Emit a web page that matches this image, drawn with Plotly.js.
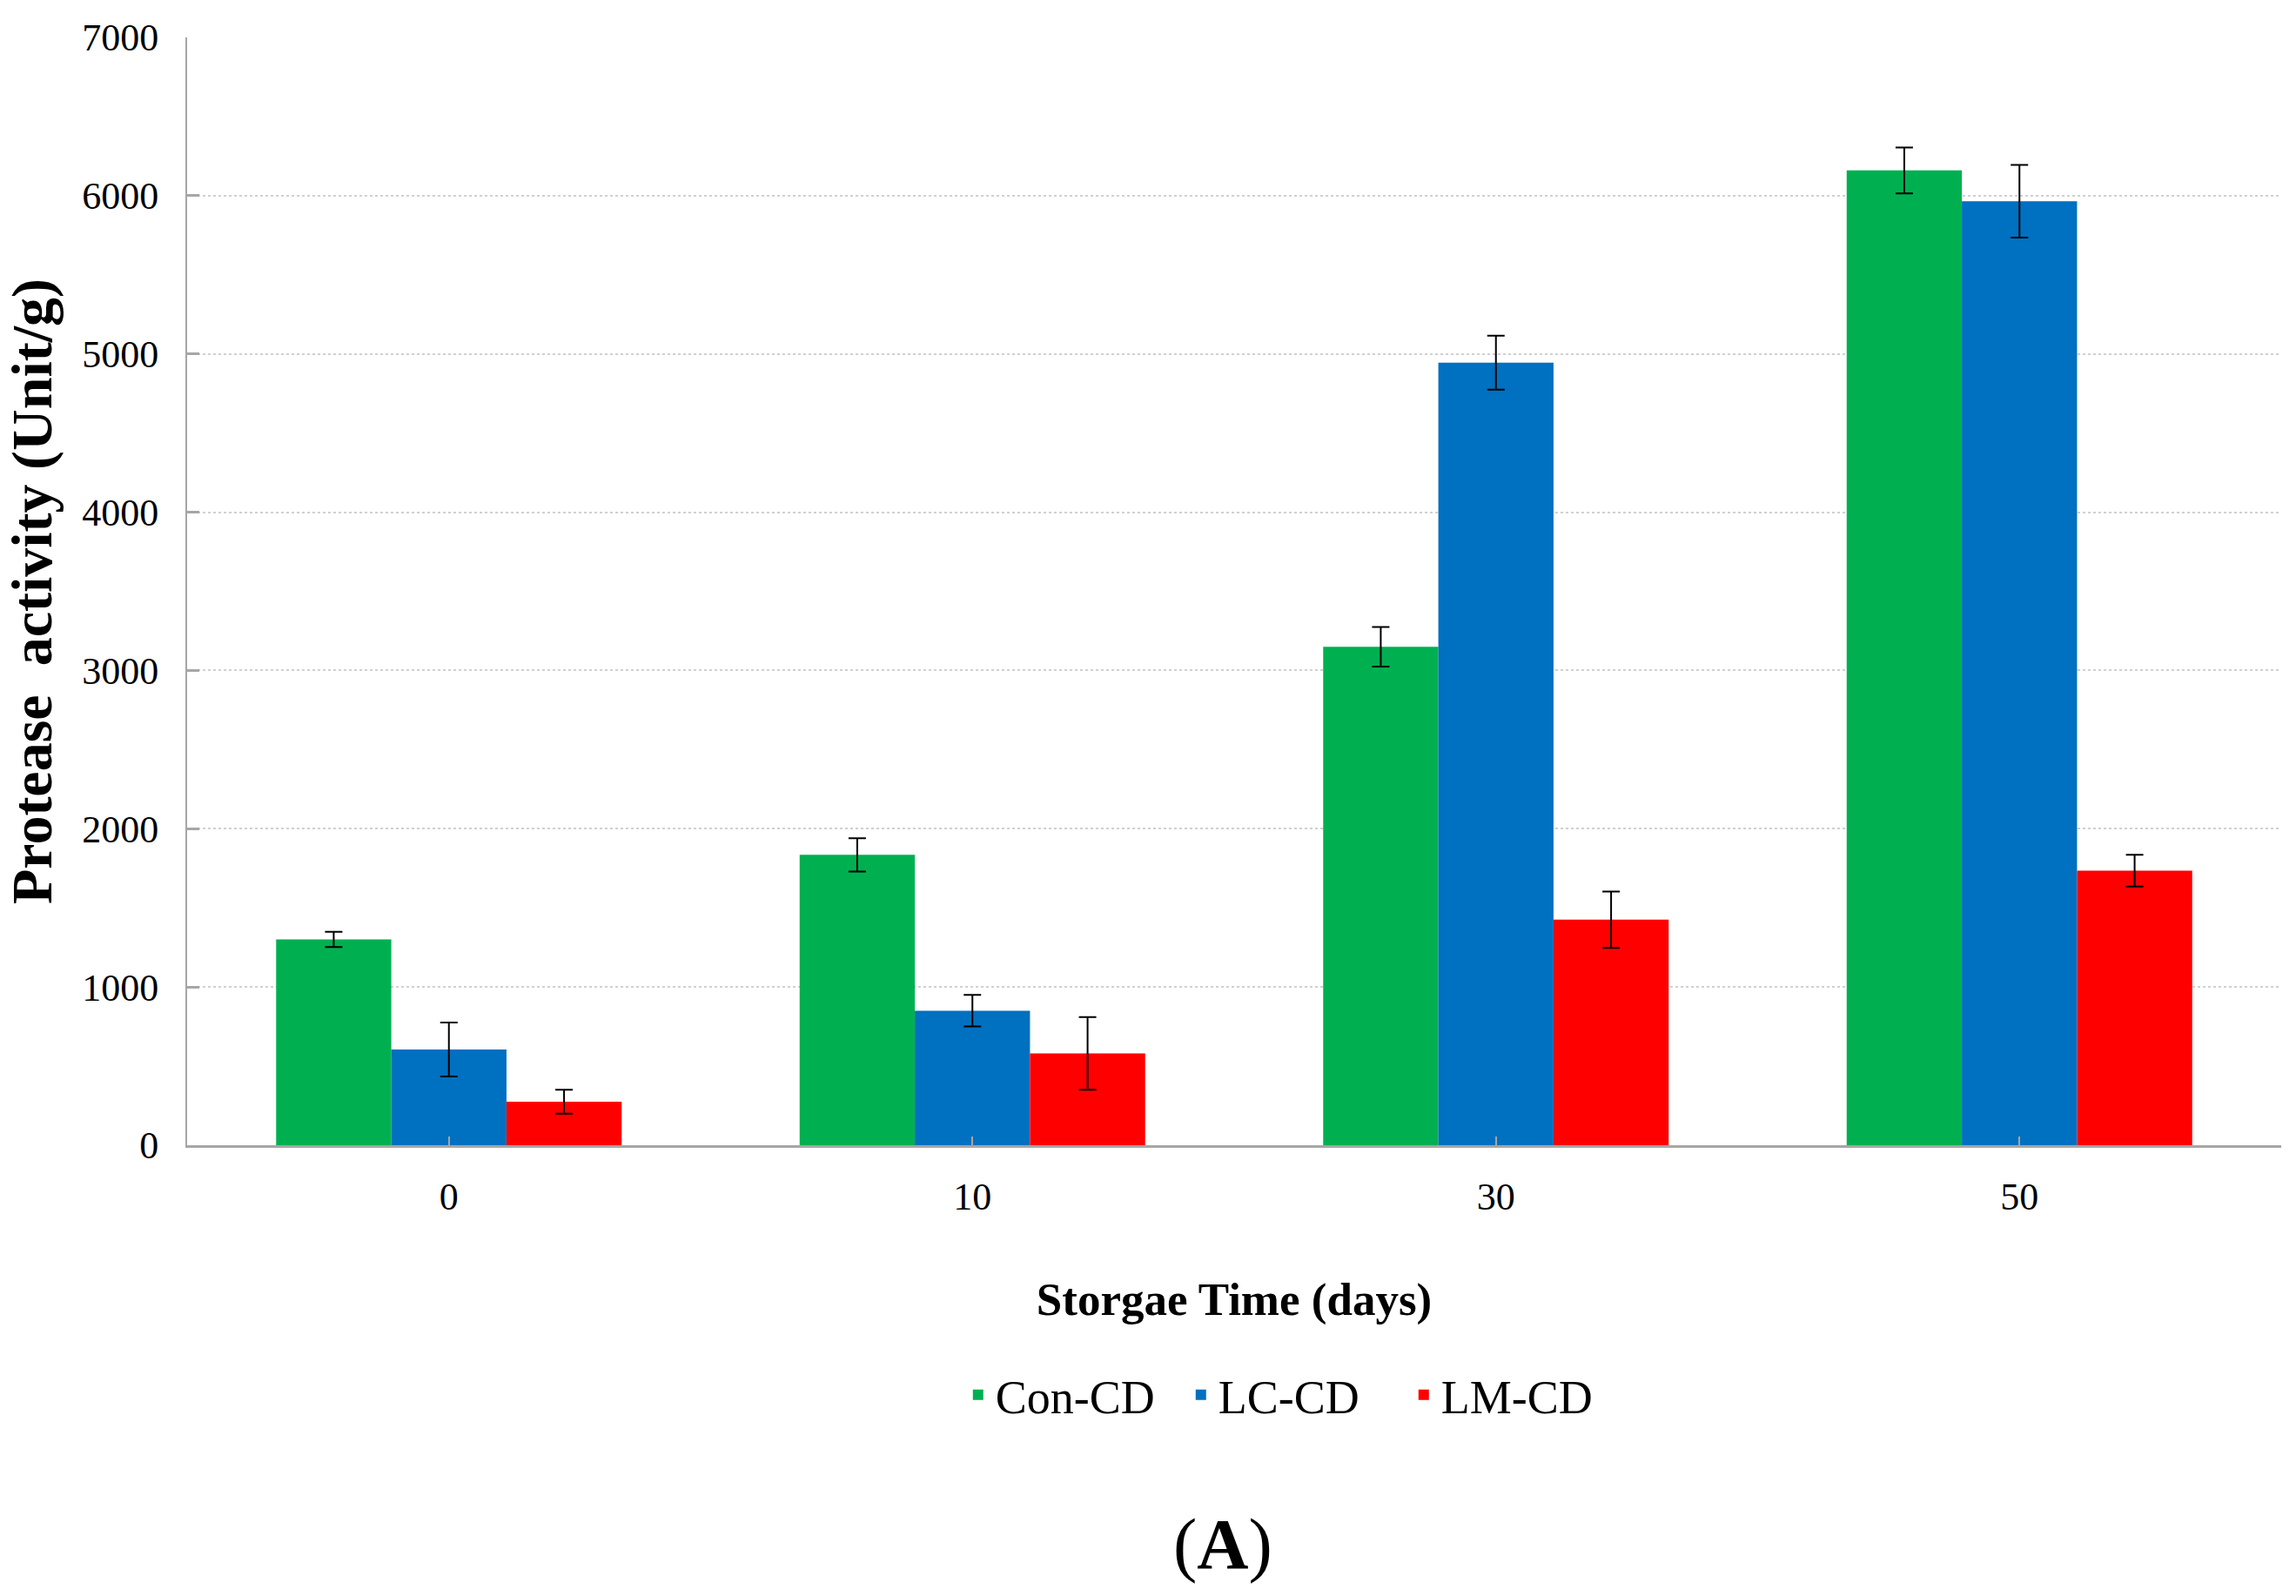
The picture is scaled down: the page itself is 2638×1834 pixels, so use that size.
<!DOCTYPE html>
<html>
<head>
<meta charset="utf-8">
<script src="https://cdn.plot.ly/plotly-3.0.1.min.js"></script>
<style>html,body{margin:0;padding:0;background:#fff;}#chart{width:2638px;height:1834px;}</style>
</head>
<body>
<div id="chart"></div>
<script>
var categories = ["0", "10", "30", "50"];
var seriesNames = ["Con-CD", "LC-CD", "LM-CD"];
var conCD = [1300, 1835, 3150, 6160];
var conCDErr = [48, 105, 125, 145];
var lcCD = [605, 850, 4945, 5965];
var lcCDErr = [170, 100, 170, 230];
var lmCD = [275, 580, 1425, 1735];
var lmCDErr = [75, 230, 178, 100];
var yTicks = [0, 1000, 2000, 3000, 4000, 5000, 6000, 7000];
var colors = ["#00B050", "#0070C0", "#FF0000"];

var values = [conCD, lcCD, lmCD];
var errs = [conCDErr, lcCDErr, lmCDErr];
var traces = values.map(function (v, i) {
  return {
    type: "bar",
    name: seriesNames[i],
    x: categories,
    y: v,
    marker: {color: colors[i], line: {width: 0}},
    error_y: {type: "data", array: errs[i], visible: true, color: "#000000", thickness: 2, width: 10}
  };
});

var serif = "'Times New Roman', 'Liberation Serif', serif";
var layout = {
  width: 2638,
  height: 1834,
  paper_bgcolor: "#ffffff",
  plot_bgcolor: "#ffffff",
  margin: {l: 215, r: 17, t: 43, b: 518},
  barmode: "group",
  bargap: 0.34,
  bargroupgap: 0,
  showlegend: true,
  font: {family: serif, color: "#000000"},
  xaxis: {
    type: "category",
    showline: true,
    linecolor: "#a6a6a6",
    linewidth: 3,
    ticks: "inside",
    ticklen: 10,
    tickwidth: 2,
    tickcolor: "#a6a6a6",
    tickfont: {family: serif, size: 44, color: "#000000", weight: "normal"},
    ticklabelstandoff: 18,
    showgrid: false,
    zeroline: false,
    title: {text: "<b>Storgae Time (days)</b>", font: {family: serif, size: 53, color: "#000000"}, standoff: 76}
  },
  yaxis: {
    range: [0, 7000],
    tickvals: yTicks,
    ticktext: yTicks.map(String),
    showline: true,
    linecolor: "#a6a6a6",
    linewidth: 2,
    ticks: "inside",
    ticklen: 14,
    tickwidth: 3,
    tickcolor: "#a6a6a6",
    tickfont: {family: serif, size: 44, color: "#000000", weight: "normal"},
    ticklabelstandoff: 22,
    showgrid: true,
    gridcolor: "#d0d0d0",
    gridwidth: 2,
    griddash: "dot",
    zeroline: false,
    title: {text: "<b>Protease  activity (Unit/g)</b>", font: {family: serif, size: 66, color: "#000000"}, standoff: 14}
  },
  legend: {
    orientation: "h",
    x: 0.529,
    xanchor: "center",
    y: -0.2255,
    yanchor: "middle",
    font: {family: serif, size: 54, color: "#000000", weight: "normal"},
    itemwidth: 30,
    entrywidth: 211,
    entrywidthmode: "pixels",
    bgcolor: "rgba(0,0,0,0)"
  },
  annotations: [{
    xref: "paper", yref: "paper",
    x: 0.4946, y: -0.36,
    xanchor: "center", yanchor: "middle",
    showarrow: false,
    text: "(<b>A</b>)",
    font: {family: serif, size: 82, color: "#000000"}
  }]
};

Plotly.newPlot("chart", traces, layout, {displayModeBar: false, staticPlot: true});
</script>
</body>
</html>
